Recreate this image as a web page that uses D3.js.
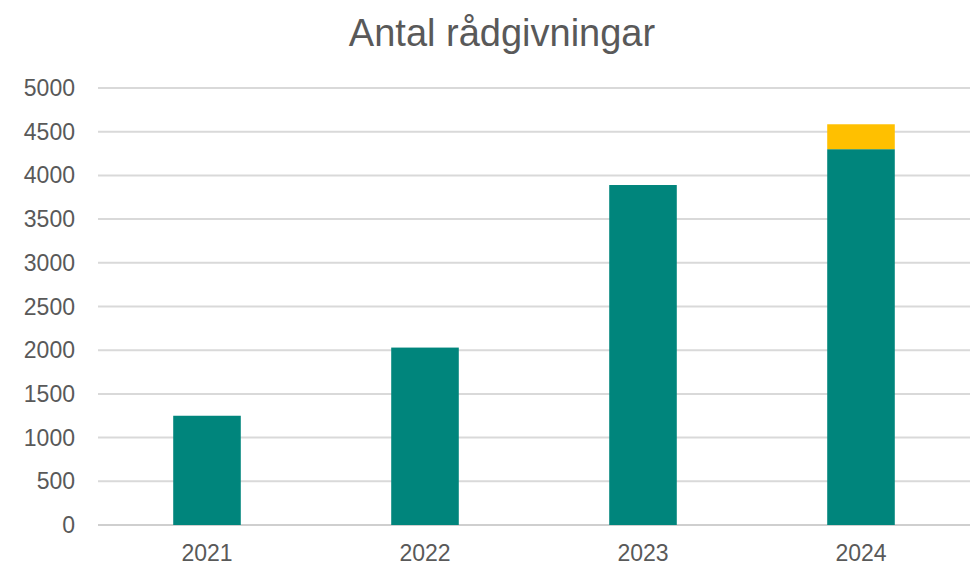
<!DOCTYPE html>
<html>
<head>
<meta charset="utf-8">
<script src="https://cdn.jsdelivr.net/npm/d3@7"></script>
<style>
  body { margin: 0; background: #fff; }
  svg { display: block; }
</style>
</head>
<body>
<svg></svg>
<script>
// data
let years = ["2021", "2022", "2023", "2024"];
let mainValues = [1250, 2030, 3890, 4300];
let extraValues = [0, 0, 0, 285];
let yTicks = [0, 500, 1000, 1500, 2000, 2500, 3000, 3500, 4000, 4500, 5000];

let width = 973, height = 577;
let margin = ({top: 88, right: 3, bottom: 52, left: 98});

let svg = d3.select("svg").attr("width", width).attr("height", height);

let x = d3.scaleBand(years, [margin.left, width - margin.right])
    .paddingInner(0.69)
    .paddingOuter(0.345);
let y = d3.scaleLinear([0, 5000], [height - margin.bottom, margin.top]);

svg.append("text")
    .attr("x", 502)
    .attr("y", 46)
    .attr("text-anchor", "middle")
    .attr("font-family", "Liberation Sans, Arial, sans-serif")
    .attr("font-size", 38)
    .attr("fill", "#595959")
    .text("Antal rådgivningar");

// gridlines
svg.append("g")
    .selectAll("line")
    .data(yTicks)
    .join("line")
    .attr("x1", margin.left)
    .attr("x2", width - margin.right)
    .attr("y1", d => y(d))
    .attr("y2", d => y(d))
    .attr("stroke", d => d === 0 ? "#cfcfcf" : "#d9d9d9")
    .attr("stroke-width", 2);

// y labels
svg.append("g")
    .attr("font-family", "Liberation Sans, Arial, sans-serif")
    .attr("font-size", 23)
    .attr("fill", "#595959")
    .attr("text-anchor", "end")
    .selectAll("text")
    .data(yTicks)
    .join("text")
    .attr("x", 75)
    .attr("y", d => y(d))
    .attr("dy", "0.35em")
    .text(d => d);

// bars
svg.append("g")
    .attr("fill", "#00857c")
    .selectAll("rect")
    .data(years)
    .join("rect")
    .attr("x", d => x(d))
    .attr("width", x.bandwidth())
    .attr("y", (d, i) => y(mainValues[i]))
    .attr("height", (d, i) => y(0) - y(mainValues[i]));

svg.append("g")
    .attr("fill", "#ffc000")
    .selectAll("rect")
    .data(years.filter((d, i) => extraValues[i] > 0))
    .join("rect")
    .attr("x", d => x(d))
    .attr("width", x.bandwidth())
    .attr("y", d => {
        let i = years.indexOf(d);
        return y(mainValues[i] + extraValues[i]);
    })
    .attr("height", d => {
        let i = years.indexOf(d);
        return y(mainValues[i]) - y(mainValues[i] + extraValues[i]);
    });

// x labels
svg.append("g")
    .attr("font-family", "Liberation Sans, Arial, sans-serif")
    .attr("font-size", 23)
    .attr("fill", "#595959")
    .attr("text-anchor", "middle")
    .selectAll("text")
    .data(years)
    .join("text")
    .attr("x", d => x(d) + x.bandwidth() / 2)
    .attr("y", 561)
    .text(d => d);
</script>
</body>
</html>
